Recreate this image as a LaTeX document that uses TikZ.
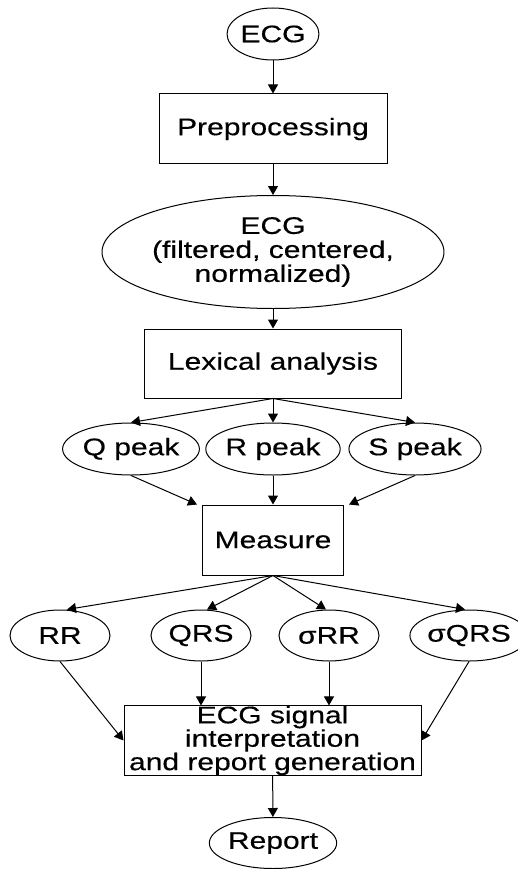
\documentclass[tikz,border=0pt]{standalone}
\usepackage{fontspec}
\setmainfont{Liberation Sans}[FakeStretch=1.25,FakeBold=0.4]
\usetikzlibrary{shapes.geometric,arrows.meta}
\begin{document}
\begin{tikzpicture}[x=1pt,y=-1pt,
  every node/.style={font=\fontsize{24}{24}\selectfont, inner sep=0pt, draw, line width=1pt, align=center},
  ell/.style={ellipse},
  box/.style={rectangle},
  arr/.style={-{Triangle[length=9pt,width=10pt]}, line width=1pt}]
\useasboundingbox (0,0) rectangle (518,869);
\node[ell, minimum width=85pt, minimum height=52pt] (ecg) at (273,34) {ECG};
\node[box, minimum width=228pt, minimum height=70pt] (pre) at (273,129) {Preprocessing};
\node[ell, minimum width=285pt, minimum height=113pt] (ecgf) at (273,252) {ECG\\(filtered, centered,\\normalized)};
\node[box, minimum width=257pt, minimum height=69pt] (lex) at (273,363.5) {Lexical analysis};
\node[ell, minimum width=114pt, minimum height=52pt] (q) at (131,449) {Q peak};
\node[ell, minimum width=114pt, minimum height=52pt] (r) at (273,449) {R peak};
\node[ell, minimum width=114pt, minimum height=52pt] (s) at (415,449) {S peak};
\node[box, minimum width=141pt, minimum height=70pt] (meas) at (273,540) {Measure};
\node[ell, minimum width=100pt, minimum height=51pt] (rr) at (60,635.5) {RR};
\node[ell, minimum width=100pt, minimum height=51pt] (qrs) at (201,635.5) {QRS};
\node[ell, minimum width=100pt, minimum height=51pt] (srr) at (329,635.5) {σRR};
\node[ell, minimum width=96pt, minimum height=51pt] (sqrs) at (469,635.5) {σQRS};
\node[box, minimum width=297pt, minimum height=69pt, font=\fontsize{24}{23.4}\selectfont] (interp) at (272.5,740.5) {ECG signal\\interpretation\\and report generation};
\node[ell, minimum width=114pt, minimum height=51pt] (rep) at (273,843) {Report};
\draw[arr] (ecg) -- (pre);
\draw[arr] (pre) -- (ecgf);
\draw[arr] (ecgf) -- (lex);
\draw[arr] (lex.south) -- (q.north);
\draw[arr] (lex.south) -- (r.north);
\draw[arr] (lex.south) -- (s.north);
\draw[arr] (q.south) -- ([xshift=-5pt]meas.north west);
\draw[arr] (r.south) -- (meas.north);
\draw[arr] (s.south) -- ([xshift=5pt]meas.north east);
\draw[arr] (meas.south) -- ([xshift=7pt]rr.north);
\draw[arr] (meas.south) -- ([xshift=6pt]qrs.north);
\draw[arr] (meas.south) -- ([xshift=-3pt]srr.north);
\draw[arr] (meas.south) -- ([xshift=-4pt]sqrs.north);
\draw[arr] (rr.south) -- (interp.west);
\draw[arr] (qrs.south) -- (qrs.south |- interp.north);
\draw[arr] (srr.south) -- (srr.south |- interp.north);
\draw[arr] (sqrs.south) -- (interp.east);
\draw[arr] (interp) -- (rep);
\end{tikzpicture}
\end{document}
